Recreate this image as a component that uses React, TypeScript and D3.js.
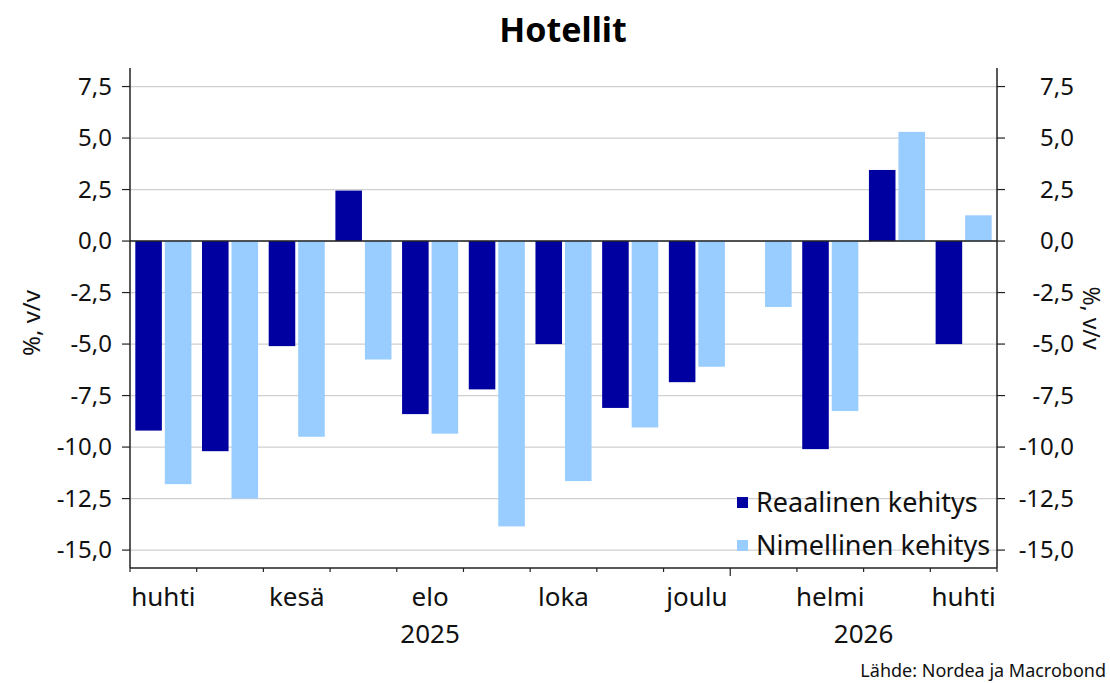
import React from 'react';
import * as d3 from 'd3';

const MONTHS = ['huhti', 'touko', 'kesä', 'heinä', 'elo', 'syys', 'loka', 'marras', 'joulu', 'tammi', 'helmi', 'maalis', 'huhti2'];
const MONTH_LABELS = ['huhti', '', 'kesä', '', 'elo', '', 'loka', '', 'joulu', '', 'helmi', '', 'huhti'];
const REAL = [-9.2, -10.2, -5.1, 2.45, -8.4, -7.2, -5.0, -8.1, -6.85, 0, -10.1, 3.45, -5.0];
const NOMINAL = [-11.8, -12.5, -9.5, -5.75, -9.35, -13.85, -11.65, -9.05, -6.1, -3.2, -8.25, 5.3, 1.25];
const SERIES = ['Reaalinen kehitys', 'Nimellinen kehitys'];
const COLORS = ['#0000a0', '#99ccff'];
const Y_TICKS = [-15, -12.5, -10, -7.5, -5, -2.5, 0, 2.5, 5, 7.5];
const YEARS = [
  { label: '2025', from: 0, to: 9 },
  { label: '2026', from: 9, to: 13 },
];

const W = 1110;
const H = 683;
const M = { top: 68, right: 113, bottom: 115, left: 130 };
const FONT = '"Noto Sans", "Open Sans", sans-serif';

const fmt = (v: number) => d3.format('.1f')(v).replace('.', ',').replace('−', '-');

export default function App() {
  const x = d3.scaleBand<number>().domain(d3.range(MONTHS.length)).range([M.left, W - M.right]).padding(0);
  const x1 = d3.scaleBand<number>().domain([0, 1]).range([0, x.bandwidth()]).paddingInner(0.1).paddingOuter(0.18);
  const y = d3.scaleLinear().domain([-15.87, 8.4]).range([H - M.bottom, M.top]);
  const bottom = H - M.bottom;
  const right = W - M.right;
  const step = x.step();

  return (
    <div style={{ position: 'fixed', left: 0, top: 0 }}>
      <svg width={W} height={H} style={{ display: 'block', background: '#fff', fontFamily: FONT }}>
        <text x={W / 2 + 8} y={42} textAnchor="middle" fontSize={34} fontWeight={700} fill="#000">Hotellit</text>

        {/* gridlines */}
        {Y_TICKS.map(t => (
          <line key={t} x1={M.left} x2={right} y1={y(t)} y2={y(t)} stroke="#cfcfcf" strokeWidth={1.2} />
        ))}

        {/* bars */}
        {[REAL, NOMINAL].map((vals, s) => vals.map((v, i) => (
          <rect key={`${s}-${i}`}
            x={(x(i) ?? 0) + (x1(s) ?? 0)}
            y={Math.min(y(v), y(0))}
            width={x1.bandwidth()}
            height={Math.abs(y(v) - y(0))}
            fill={COLORS[s]} />
        )))}

        {/* zero line */}
        <line x1={M.left} x2={right} y1={y(0)} y2={y(0)} stroke="#222" strokeWidth={1.5} />

        {/* axes */}
        <line x1={M.left} x2={M.left} y1={M.top} y2={bottom} stroke="#222" strokeWidth={1.5} />
        <line x1={right} x2={right} y1={M.top} y2={bottom} stroke="#222" strokeWidth={1.5} />
        <line x1={M.left} x2={right} y1={bottom} y2={bottom} stroke="#222" strokeWidth={1.5} />

        {Y_TICKS.map(t => (
          <g key={t}>
            <line x1={M.left - 8} x2={M.left} y1={y(t)} y2={y(t)} stroke="#222" strokeWidth={1.2} />
            <line x1={right} x2={right + 8} y1={y(t)} y2={y(t)} stroke="#222" strokeWidth={1.2} />
            <text x={112} y={y(t) + 8} textAnchor="end" fontSize={24} fill="#111">{fmt(t)}</text>
            <text x={1074} y={y(t) + 8} textAnchor="end" fontSize={24} fill="#111">{fmt(t)}</text>
          </g>
        ))}

        {/* x ticks */}
        {d3.range(MONTHS.length + 1).map(i => {
          const xx = M.left + i * step;
          const major = i === 9;
          return <line key={i} x1={xx} x2={xx} y1={bottom} y2={bottom + (major ? 8 : 4)} stroke="#222" strokeWidth={1.2} />;
        })}
        {MONTH_LABELS.map((l, i) => l && (
          <text key={i} x={(x(i) ?? 0) + step / 2} y={606} textAnchor="middle" fontSize={26} fill="#111">{l}</text>
        ))}
        {YEARS.map(yr => (
          <text key={yr.label} x={M.left + (yr.from + yr.to) / 2 * step} y={643} textAnchor="middle" fontSize={26} fill="#111">{yr.label}</text>
        ))}

        {/* axis titles */}
        <text transform={`translate(40,${323}) rotate(-90)`} textAnchor="middle" fontSize={24} fill="#111">%, v/v</text>
        <text transform={`translate(1083,${318}) rotate(90)`} textAnchor="middle" fontSize={23} fill="#111">%, v/v</text>

        {/* legend */}
        {SERIES.map((s, i) => (
          <g key={s} transform={`translate(737,${497 + i * 43})`}>
            <rect width={11} height={11} fill={COLORS[i]} />
            <text x={19} y={15} fontSize={27} fill="#111">{s}</text>
          </g>
        ))}

        <text x={1106} y={677} textAnchor="end" fontSize={18} fill="#111">Lähde: Nordea ja Macrobond</text>
      </svg>
    </div>
  );
}
